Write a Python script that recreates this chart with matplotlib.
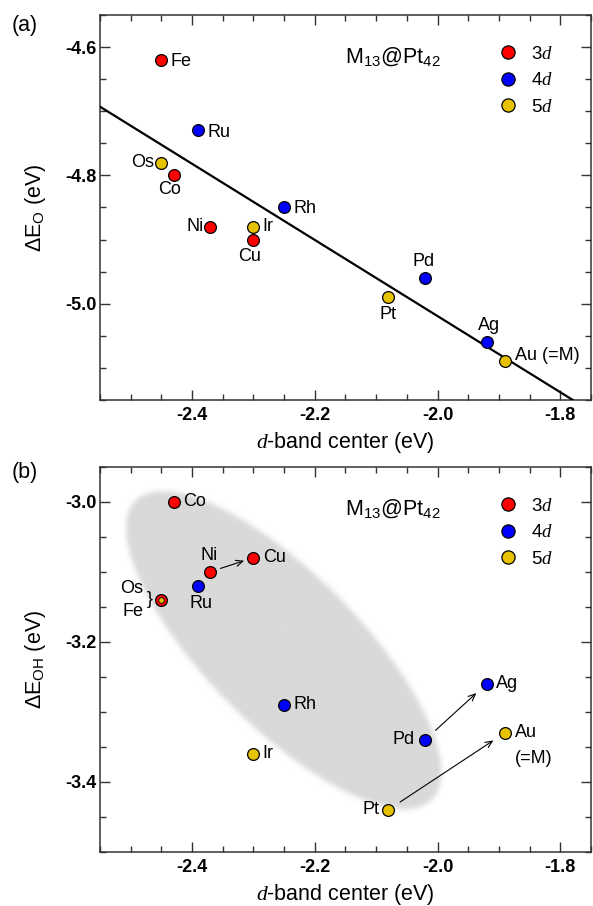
import numpy as np
import matplotlib
matplotlib.use('Agg')
import matplotlib.pyplot as plt
from matplotlib.lines import Line2D
from matplotlib.colors import to_rgb
from matplotlib.ticker import MultipleLocator

plt.rcParams['font.family'] = ['Liberation Sans', 'DejaVu Sans']
plt.rcParams['mathtext.fontset'] = 'custom'
plt.rcParams['mathtext.rm'] = 'Liberation Sans'
plt.rcParams['mathtext.it'] = 'Liberation Serif:italic'
plt.rcParams['mathtext.bf'] = 'Liberation Sans:bold'
plt.rcParams['axes.unicode_minus'] = False

# M13@Pt42 core-shell clusters: d-band centre vs O / OH binding energies
elements = ['Fe', 'Co', 'Ni', 'Cu', 'Ru', 'Rh', 'Pd', 'Ag', 'Os', 'Ir', 'Pt', 'Au']
series = ['3d', '3d', '3d', '3d', '4d', '4d', '4d', '4d', '5d', '5d', '5d', '5d']
d_band = [-2.45, -2.43, -2.37, -2.30, -2.39, -2.25, -2.02, -1.92, -2.45, -2.30, -2.08, -1.89]
dE_O = [-4.62, -4.80, -4.88, -4.90, -4.73, -4.85, -4.96, -5.06, -4.78, -4.88, -4.99, -5.09]
dE_OH = [-3.14, -3.00, -3.10, -3.08, -3.12, -3.29, -3.34, -3.26, -3.14, -3.36, -3.44, -3.33]

COLORS = {'3d': '#ff0000', '4d': '#0000ff', '5d': '#e6c200'}
SERIES_LABELS = {'3d': '3$d$', '4d': '4$d$', '5d': '5$d$'}

# label placement (offset in points, ha, va)
labels_a = {
    'Fe': (6.5, -1.5, 'left', 'center'), 'Ru': (6.5, -1.5, 'left', 'center'),
    'Os': (-5, 0, 'right', 'center'), 'Co': (-3, -10.5, 'center', 'center'),
    'Rh': (6.5, -0.5, 'left', 'center'), 'Ni': (-5, 0, 'right', 'center'),
    'Ir': (6.3, 0, 'left', 'center'), 'Cu': (-3, -12, 'center', 'center'),
    'Pd': (-1, 12, 'center', 'center'), 'Pt': (0, -12.7, 'center', 'center'),
    'Ag': (1.7, 12, 'center', 'center'), 'Au': (7, 4.3, 'left', 'center'),
}
text_a = {'Au': 'Au (=M)'}

labels_b = {
    'Co': (6.5, 0, 'left', 'center'), 'Ni': (-0.7, 11.3, 'center', 'center'),
    'Cu': (6.8, 0, 'left', 'center'), 'Ru': (2, -13, 'center', 'center'),
    'Rh': (6.5, 0, 'left', 'center'), 'Ir': (6.5, 0, 'left', 'center'),
    'Pd': (-7.5, 0, 'right', 'center'), 'Pt': (-6.5, 0, 'right', 'center'),
    'Ag': (6.8, 0, 'left', 'center'), 'Au': (7, 0, 'left', 'center'),
    'Os': (-13, 8.4, 'right', 'center'), 'Fe': (-13, -8.4, 'right', 'center'),
}
arrows_b = [('Ni', 'Cu', 7.5, 7.0), ('Pd', 'Ag', 10, 10), ('Pt', 'Au', 10, 10)]

XLIM = (-2.55, -1.75)
YLIM_A = (-5.15, -4.55)
YLIM_B = (-3.50, -2.95)


def style_axes(ax, ylim, ymajor):
    ax.set_xlim(XLIM)
    ax.set_ylim(ylim)
    ax.xaxis.set_major_locator(MultipleLocator(0.2))
    ax.xaxis.set_minor_locator(MultipleLocator(0.05))
    ax.yaxis.set_major_locator(MultipleLocator(ymajor))
    ax.yaxis.set_minor_locator(MultipleLocator(0.05))
    ax.xaxis.set_major_formatter(plt.FormatStrFormatter('%.1f'))
    ax.yaxis.set_major_formatter(plt.FormatStrFormatter('%.1f'))
    ax.tick_params(which='both', direction='in', top=True, right=True, width=1.0, color='#333333')
    ax.tick_params(which='major', length=7)
    ax.tick_params(which='minor', length=4)
    ax.tick_params(axis='x', pad=5)
    ax.tick_params(axis='y', pad=2.5)
    for lab in ax.get_xticklabels() + ax.get_yticklabels():
        lab.set_fontweight('bold')
        lab.set_fontsize(13)
    for sp in ax.spines.values():
        sp.set_linewidth(1.1)
        sp.set_color('#333333')
    ax.set_xlabel('$d$-band center (eV)', fontsize=15.5)
    ax.xaxis.set_label_coords(0.5, -0.078)
    ax.xaxis.label.set_va('top')


def scatter_points(ax, yvals, small=()):
    for el, s, x, y in zip(elements, series, d_band, yvals):
        if el in small:
            ax.scatter(x, y, s=16, color=COLORS[s], edgecolor='black', linewidth=0.6, zorder=6)
        else:
            ax.scatter(x, y, s=72, color=COLORS[s], edgecolor='black', linewidth=0.9, zorder=5)


def annotate_points(ax, yvals, placement, texts=None):
    texts = texts or {}
    for el, x, y in zip(elements, d_band, yvals):
        dx, dy, ha, va = placement[el]
        ax.annotate(texts.get(el, el), (x, y), xytext=(dx, dy), textcoords='offset points',
                    ha=ha, va=va, fontsize=13, zorder=7)


def add_legend(ax):
    handles = [Line2D([], [], marker='o', linestyle='none', markersize=9.5,
                      markerfacecolor=COLORS[k], markeredgecolor='black', markeredgewidth=0.9)
               for k in ['3d', '4d', '5d']]
    ax.legend(handles, [SERIES_LABELS[k] for k in ['3d', '4d', '5d']], loc='upper left',
              bbox_to_anchor=(0.811, 0.92), frameon=False, borderpad=0, borderaxespad=0,
              handlelength=1.0, handletextpad=0.75, labelspacing=0.5, fontsize=13.5)
    ax.text(0.597, 0.875, 'M$_{13}$@Pt$_{42}$', transform=ax.transAxes,
            ha='center', va='baseline', fontsize=15.5)


def soft_ellipse(ax, center, semi_axes, angle_deg, color, sigma):
    bb = ax.bbox
    w, h = int(round(bb.width)), int(round(bb.height))
    cx, cy = ax.transData.transform(center) - np.array([bb.x0, bb.y0])
    yy, xx = np.mgrid[0:h, 0:w] + 0.5
    t = np.deg2rad(angle_deg)
    u = (xx - cx) * np.cos(t) + (yy - cy) * np.sin(t)
    v = -(xx - cx) * np.sin(t) + (yy - cy) * np.cos(t)
    mask = ((u / semi_axes[0]) ** 2 + (v / semi_axes[1]) ** 2 <= 1).astype(float)
    k = np.arange(-3 * sigma, 3 * sigma + 1)
    g = np.exp(-k ** 2 / (2.0 * sigma ** 2))
    g /= g.sum()
    mask = np.apply_along_axis(lambda r: np.convolve(r, g, mode='same'), 1, mask)
    mask = np.apply_along_axis(lambda c: np.convolve(c, g, mode='same'), 0, mask)
    rgba = np.zeros((h, w, 4))
    rgba[..., :3] = to_rgb(color)
    rgba[..., 3] = mask
    ax.imshow(rgba, extent=(0, 1, 0, 1), transform=ax.transAxes, origin='lower',
              aspect='auto', zorder=0, interpolation='bilinear')


fig = plt.figure(figsize=(5.93, 9.06), dpi=100)
ax1 = fig.add_axes([0.1686, 0.5585, 0.828, 0.425])
ax2 = fig.add_axes([0.1686, 0.0599, 0.828, 0.425])

# ---- (a) O binding energy with linear fit
style_axes(ax1, YLIM_A, 0.2)
slope, icpt = np.polyfit(d_band, dE_O, 1)
xfit = np.array(XLIM)
ax1.plot(xfit, slope * xfit + icpt, color='black', linewidth=1.6, zorder=3)
scatter_points(ax1, dE_O)
annotate_points(ax1, dE_O, labels_a, text_a)
add_legend(ax1)
ax1.set_ylabel(r'$\Delta$E$_\mathrm{O}$ (eV)', fontsize=15.5)
ax1.yaxis.set_label_coords(-0.105, 0.5)
ax1.set_xlim(XLIM)
ax1.set_ylim(YLIM_A)

# ---- (b) OH binding energy
style_axes(ax2, YLIM_B, 0.2)
soft_ellipse(ax2, (-2.252, -3.213), (210, 76), -45.3, '#d9d9d9', 2.5)
ax2.set_xlim(XLIM)
ax2.set_ylim(YLIM_B)
scatter_points(ax2, dE_OH, small=('Os',))
annotate_points(ax2, dE_OH, labels_b, {'Au': 'Au'})
i_au = elements.index('Au')
ax2.annotate('(=M)', (d_band[i_au], dE_OH[i_au]), xytext=(7, -18.5), textcoords='offset points',
             ha='left', va='center', fontsize=13)
i_fe = elements.index('Fe')
ax2.annotate('}', (d_band[i_fe], dE_OH[i_fe]), xytext=(-8.4, 0), textcoords='offset points',
             ha='center', va='center', fontsize=13)
for src, dst, sa, sb in arrows_b:
    i, j = elements.index(src), elements.index(dst)
    ax2.annotate('', xy=(d_band[j], dE_OH[j]), xytext=(d_band[i], dE_OH[i]),
                 arrowprops=dict(arrowstyle='->,head_length=0.5,head_width=0.22', color='black',
                                 linewidth=0.8, shrinkA=sa, shrinkB=sb), zorder=4)
add_legend(ax2)
ax2.set_ylabel(r'$\Delta$E$_\mathrm{OH}$ (eV)', fontsize=15.5)
ax2.yaxis.set_label_coords(-0.105, 0.5)

fig.text(0.042, 0.972, '(a)', fontsize=15.5, ha='center', va='center')
fig.text(0.042, 0.478, '(b)', fontsize=15.5, ha='center', va='center')

fig.savefig('out.png', dpi=100)
